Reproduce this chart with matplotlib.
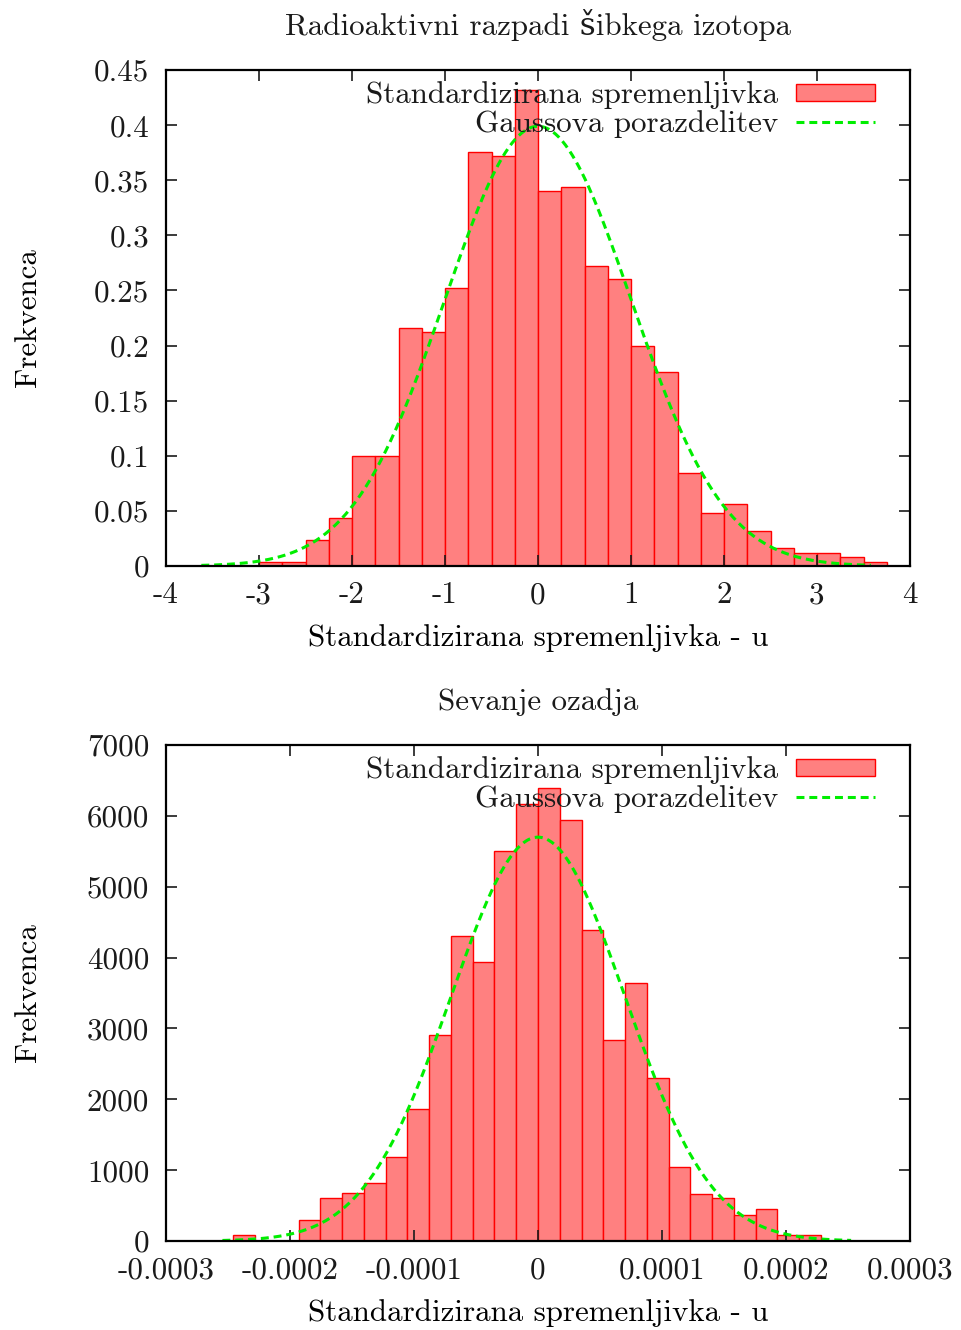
import numpy as np
import matplotlib
matplotlib.use("Agg")
import matplotlib.pyplot as plt

# ---- data ----
# top panel: radioactive decays, standardised, density histogram (bin 0.25)
top_edges = [-3.75, -3.5, -3.25, -3.0, -2.75, -2.5, -2.25, -2.0, -1.75, -1.5,
             -1.25, -1.0, -0.75, -0.5, -0.25, 0.0, 0.25, 0.5, 0.75, 1.0,
             1.25, 1.5, 1.75, 2.0, 2.25, 2.5, 2.75, 3.0, 3.25, 3.5]
top_heights = [0, 0, 0, 0.004, 0.004, 0.024, 0.044, 0.100, 0.100, 0.216,
               0.212, 0.252, 0.376, 0.372, 0.432, 0.340, 0.344, 0.272, 0.260, 0.200,
               0.176, 0.084, 0.048, 0.056, 0.032, 0.016, 0.012, 0.012, 0.008, 0.004]
top_bin = 0.25
top_mu, top_sigma = 0.0, 1.0
top_xrange = (-3.62, 3.58)

# bottom panel: background radiation
bot_edges = np.array([-26.331, -24.576, -22.820, -21.065, -19.309, -17.554, -15.799,
                      -14.043, -12.288, -10.532, -8.777, -7.022, -5.266, -3.511,
                      -1.755, 0.0, 1.755, 3.511, 5.266, 7.022, 8.777, 10.532,
                      12.288, 14.043, 15.799, 17.554, 19.309, 21.065, 22.820,
                      24.576]) * 1e-5
bot_heights = [0, 80, 0, 0, 301, 602, 673, 824, 1191, 1859,
               2904, 4311, 3939, 5501, 6174, 6400, 5948, 4386, 2833, 3647,
               2306, 1040, 668, 602, 372, 447, 80, 80, 0, 0]
bot_bin = 1.7554e-5
bot_mu, bot_sigma = 0.0, 7.0e-5
bot_xrange = (-2.545e-4, 2.525e-4)

top_xticks = [-4, -3, -2, -1, 0, 1, 2, 3, 4]
top_xlabels = ['-4', '-3', '-2', '-1', '0', '1', '2', '3', '4']
top_yticks = [0, 0.05, 0.1, 0.15, 0.2, 0.25, 0.3, 0.35, 0.4, 0.45]
top_ylabels = ['0', '0.05', '0.1', '0.15', '0.2', '0.25', '0.3', '0.35', '0.4', '0.45']
bot_xticks = [-3e-4, -2e-4, -1e-4, 0, 1e-4, 2e-4, 3e-4]
bot_xlabels = ['-0.0003', '-0.0002', '-0.0001', '0', '0.0001', '0.0002', '0.0003']
bot_yticks = [0, 1000, 2000, 3000, 4000, 5000, 6000, 7000]
bot_ylabels = ['0', '1000', '2000', '3000', '4000', '5000', '6000', '7000']

plt.rcParams['font.family'] = ['cmr10', 'DejaVu Serif']
plt.rcParams['font.size'] = 22.3
plt.rcParams['axes.titlesize'] = 22.3
plt.rcParams['axes.unicode_minus'] = False
plt.rcParams['text.color'] = '#1a1a1a'
plt.rcParams['xtick.color'] = '#1a1a1a'
plt.rcParams['ytick.color'] = '#1a1a1a'

fig = plt.figure(figsize=(9.61, 13.30), dpi=100)
ax1 = fig.add_axes([166/961, 1 - 566/1330, 744/961, 496/1330])
ax2 = fig.add_axes([166/961, 1 - 1241/1330, 744/961, 496/1330])


def gauss(x, mu, s):
    return np.exp(-0.5*((x - mu)/s)**2) / (s*np.sqrt(2*np.pi))


def draw(ax, edges, heights, binw, mu, sig, xr, title, xt, xl, yt, yl):
    bars = ax.bar(edges, heights, width=binw, align='edge', color='#ff8080',
                  edgecolor='#ff0000', linewidth=1.0)
    xs = np.linspace(xr[0], xr[1], 400)
    line, = ax.plot(xs, gauss(xs, mu, sig), color='#00ee00', lw=2.2,
                    linestyle=(0, (2.6, 1.6)))
    ax.set_xlim(xt[0], xt[-1])
    ax.set_ylim(yt[0], yt[-1])
    ax.set_xticks(xt)
    ax.set_xticklabels(xl)
    ax.set_yticks(yt)
    ax.set_yticklabels(yl)
    ax.tick_params(direction='in', top=True, right=True, length=8, width=1.2)
    ax.tick_params(axis='y', pad=12)
    ax.tick_params(axis='x', pad=11)
    for sp in ax.spines.values():
        sp.set_linewidth(1.6)
    ax.set_title(title, pad=25)
    ax.set_xlabel('Standardizirana spremenljivka - u', labelpad=11)
    ax.set_ylabel('Frekvenca')
    ax.yaxis.set_label_coords(-0.167, 0.5)
    ax.legend([bars, line], ['Standardizirana spremenljivka', 'Gaussova porazdelitev'],
              loc='upper right', bbox_to_anchor=(1 - 35/744, 1 - 11.5/496),
              frameon=False, markerfirst=False,
              handlelength=2.55, handleheight=0.45, handletextpad=0.58,
              labelspacing=0.02, borderaxespad=0, borderpad=0)


draw(ax1, top_edges, top_heights, top_bin, top_mu, top_sigma, top_xrange,
     'Radioaktivni razpadi šibkega izotopa', top_xticks, top_xlabels, top_yticks, top_ylabels)
draw(ax2, bot_edges, bot_heights, bot_bin, bot_mu, bot_sigma, bot_xrange,
     'Sevanje ozadja', bot_xticks, bot_xlabels, bot_yticks, bot_ylabels)

fig.savefig('out.png', dpi=100)
